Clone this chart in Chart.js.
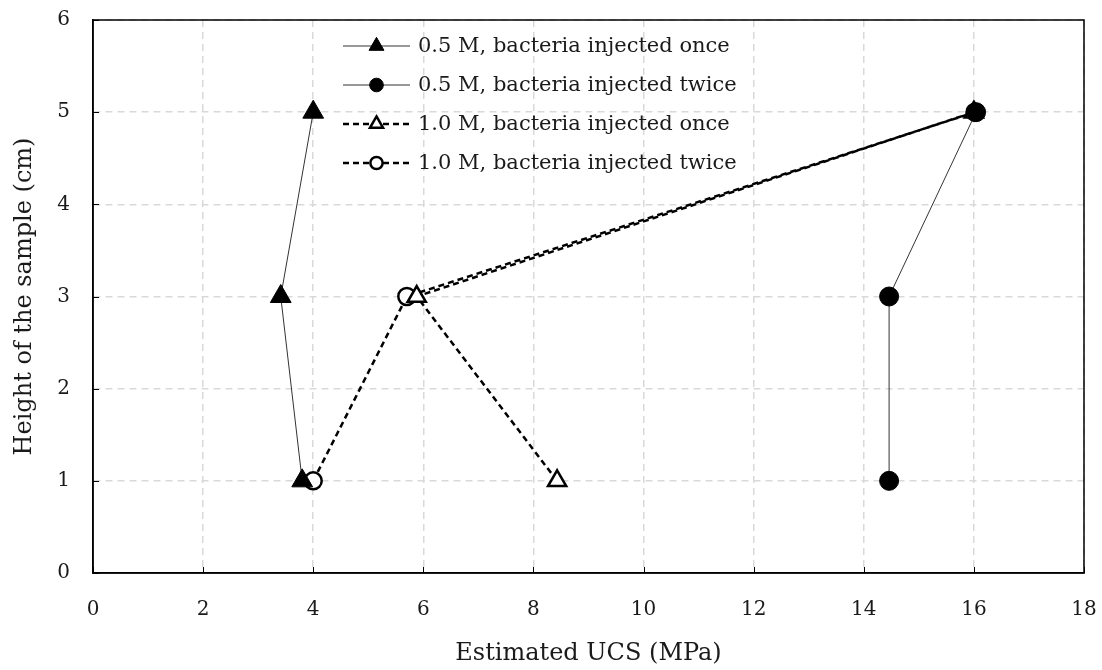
<!DOCTYPE html>
<html>
<head>
<meta charset="utf-8">
<script src="https://cdn.jsdelivr.net/npm/chart.js@4.4.1/dist/chart.umd.min.js"></script>
<style>
  html, body { margin: 0; padding: 0; background: #fff; }
  #chart { display: block; }
</style>
</head>
<body>
<canvas id="chart" width="1102" height="670"></canvas>
<script>
// values
const heights = [1, 3, 5];
const ucsOnce05 = [3.8, 3.41, 4.0];
const ucsTwice05 = [14.46, 14.46, 16.04];
const ucsOnce10 = [8.43, 5.88, 16.0];
const ucsTwice10 = [4.0, 5.7, 16.02];
const seriesLabels = [
    '0.5 M, bacteria injected once',
    '0.5 M, bacteria injected twice',
    '1.0 M, bacteria injected once',
    '1.0 M, bacteria injected twice'
];
const xTicks = [0, 2, 4, 6, 8, 10, 12, 14, 16, 18];
const yTicks = [0, 1, 2, 3, 4, 5, 6];

const FONT = "'DejaVu Serif', 'Liberation Serif', serif";
const TEXT = '#1a1a1a';

function pts(xs) {
    return xs.map((x, i) => ({ x, y: heights[i] }));
}

const datasets = [
    { label: seriesLabels[0], data: pts(ucsOnce05), borderColor: '#333', borderWidth: 1,
      pointStyle: 'triangle', pointRadius: 12, backgroundColor: '#000', pointBorderColor: '#000', pointBorderWidth: 1 },
    { label: seriesLabels[1], data: pts(ucsTwice05), borderColor: '#333', borderWidth: 1,
      pointStyle: 'circle', pointRadius: 9.5, backgroundColor: '#000', pointBorderColor: '#000', pointBorderWidth: 1 },
    { label: seriesLabels[2], data: pts(ucsOnce10), borderColor: '#000', borderWidth: 2.5, borderDash: [6, 4],
      pointStyle: 'triangle', pointRadius: 10.5, backgroundColor: '#fff', pointBorderColor: '#000', pointBorderWidth: 2.5 },
    { label: seriesLabels[3], data: pts(ucsTwice10), borderColor: '#000', borderWidth: 2.5, borderDash: [6, 4],
      pointStyle: 'circle', pointRadius: 8.5, backgroundColor: '#fff', pointBorderColor: '#000', pointBorderWidth: 2.5 }
];
datasets.forEach(d => { d.showLine = true; d.fill = false; d.pointBackgroundColor = d.backgroundColor; });

// frame round the plot area plus inner tick marks
const frameTicks = {
    id: 'frameTicks',
    afterDatasetsDraw(chart) {
        const { ctx, chartArea: a, scales: { x, y } } = chart;
        ctx.save();
        ctx.strokeStyle = '#000';
        ctx.lineWidth = 1.5;
        ctx.strokeRect(a.left, a.top, a.right - a.left, a.bottom - a.top);
        ctx.lineWidth = 1;
        xTicks.forEach(v => {
            const px = Math.round(x.getPixelForValue(v)) + 0.5;
            ctx.beginPath(); ctx.moveTo(px, a.bottom); ctx.lineTo(px, a.bottom - 6); ctx.stroke();
        });
        yTicks.forEach(v => {
            const py = Math.round(y.getPixelForValue(v)) + 0.5;
            ctx.beginPath(); ctx.moveTo(a.left, py); ctx.lineTo(a.left + 6, py); ctx.stroke();
        });
        ctx.restore();
    }
};

// legend: line segment with marker in the middle, then the label
const lineLegend = {
    id: 'lineLegend',
    afterDraw(chart) {
        const ctx = chart.ctx;
        const x0 = 343, x1 = 410, tx = 418;
        const rows = [46, 85, 124, 163];
        ctx.save();
        chart.data.datasets.forEach((ds, i) => {
            const yy = rows[i];
            ctx.strokeStyle = ds.borderColor;
            ctx.lineWidth = ds.borderWidth;
            ctx.setLineDash(ds.borderDash || []);
            ctx.beginPath(); ctx.moveTo(x0, yy); ctx.lineTo(x1, yy); ctx.stroke();
            ctx.setLineDash([]);
            ctx.fillStyle = ds.backgroundColor;
            ctx.strokeStyle = ds.pointBorderColor;
            ctx.lineWidth = ds.pointBorderWidth;
            Chart.helpers.drawPoint(ctx, {
                pointStyle: ds.pointStyle, rotation: 0,
                radius: ds.pointRadius * 0.72, borderWidth: ds.pointBorderWidth
            }, (x0 + x1) / 2, yy);
            ctx.fillStyle = TEXT;
            ctx.font = '21px ' + FONT;
            ctx.textBaseline = 'middle';
            ctx.fillText(ds.label, tx, yy + 1);
        });
        ctx.restore();
    }
};

new Chart(document.getElementById('chart'), {
    type: 'scatter',
    data: { datasets },
    plugins: [frameTicks, lineLegend],
    options: {
        responsive: false,
        animation: false,
        layout: { padding: { top: 20, right: 18, left: 0, bottom: 0 } },
        plugins: { legend: { display: false }, tooltip: { enabled: false } },
        scales: {
            x: {
                type: 'linear', min: 0, max: 18,
                afterBuildTicks: s => { s.ticks = xTicks.map(v => ({ value: v })); },
                afterFit: s => { s.height = 97; s.paddingLeft = 0; s.paddingRight = 0; },
                ticks: { color: TEXT, font: { family: FONT, size: 20 }, padding: 25 },
                grid: { color: '#d9d9d9', lineWidth: 1.5, drawTicks: false },
                border: { color: '#000', width: 1.5, dash: [7, 5] },
                title: { display: true, text: 'Estimated UCS (MPa)', color: TEXT,
                         font: { family: FONT, size: 24 }, padding: { top: 0, bottom: 2 } }
            },
            y: {
                type: 'linear', min: 0, max: 6,
                afterBuildTicks: s => { s.ticks = yTicks.map(v => ({ value: v })); },
                afterFit: s => { s.width = 93; s.paddingTop = 0; s.paddingBottom = 0; },
                ticks: { color: TEXT, font: { family: FONT, size: 20 }, padding: 23 },
                grid: { color: '#d9d9d9', lineWidth: 1.5, drawTicks: false },
                border: { color: '#000', width: 1.5, dash: [7, 5] },
                title: { display: true, text: 'Height of the sample (cm)', color: TEXT,
                         font: { family: FONT, size: 24 }, padding: { top: 10, bottom: 0 } }
            }
        }
    }
});
</script>
</body>
</html>
